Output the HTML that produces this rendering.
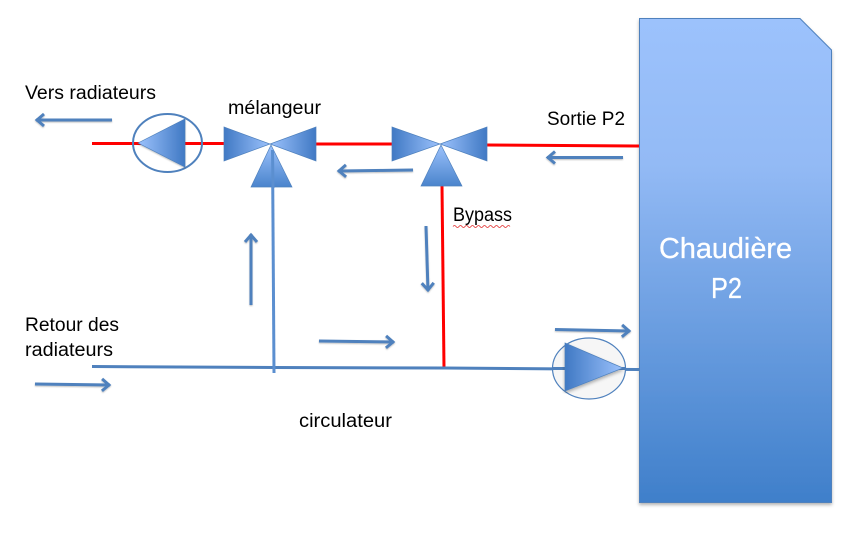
<!DOCTYPE html>
<html><head><meta charset="utf-8"><style>
html,body{margin:0;padding:0;background:#fff;width:843px;height:554px;overflow:hidden}
svg{display:block}
text{font-family:"Liberation Sans",sans-serif;fill:#000;font-size:19px}
</style></head><body>
<svg width="843" height="554" viewBox="0 0 843 554" xmlns="http://www.w3.org/2000/svg">
<defs>
<linearGradient id="v" x1="0" y1="0" x2="0" y2="1"><stop offset="0" stop-color="#9cc2fc"/><stop offset=".3" stop-color="#93baf5"/><stop offset="1" stop-color="#3f7fca"/></linearGradient>
<linearGradient id="tl" x1="0" y1="0" x2="1" y2="0"><stop offset="0" stop-color="#4079c4"/><stop offset="1" stop-color="#9cc2fc"/></linearGradient>
<linearGradient id="tr" x1="1" y1="0" x2="0" y2="0"><stop offset="0" stop-color="#4079c4"/><stop offset="1" stop-color="#9cc2fc"/></linearGradient>
<linearGradient id="tu" x1="0" y1="0" x2="0" y2="1"><stop offset="0" stop-color="#9cc2fc"/><stop offset="1" stop-color="#4a84cc"/></linearGradient>
<marker id="a" markerUnits="userSpaceOnUse" markerWidth="20" markerHeight="20" refX="15" refY="10" orient="auto"><path d="M7 4 L14 10 L7 16" fill="none" stroke="#4f81bd" stroke-width="3"/></marker>
<filter id="s" x="-5%" y="-5%" width="110%" height="110%"><feDropShadow dx="0" dy="2" stdDeviation="1.5" flood-color="#000" flood-opacity=".3"/></filter>
<filter id="l" x="-20%" y="-20%" width="140%" height="140%"><feDropShadow dx="0" dy="1" stdDeviation=".8" flood-color="#000" flood-opacity=".25"/></filter>
</defs>

<path d="M639.5 18.5H800L831.5 50V502.5H639.5Z" fill="url(#v)" stroke="#4f81bd" stroke-width="1" filter="url(#s)"/>

<g fill="none" stroke-linecap="butt">
<path d="M92 143.5H224M316 144H392" stroke="#ff0000" stroke-width="3"/>
<path d="M487 145L639 146" stroke="#ff0000" stroke-width="3"/>
<path d="M442 186L444 368" stroke="#ff0000" stroke-width="3"/>
<path d="M92 366.5L274 367.5L444 368L639 369.5" stroke="#4f81bd" stroke-width="3"/>
<path d="M272.5 150L274 373" stroke="#5b8fd0" stroke-width="3"/>
</g>

<ellipse cx="167.5" cy="143" rx="34.5" ry="29" fill="none" stroke="#4f81bd" stroke-width="2"/>
<path d="M138 143L185 119V167Z" fill="url(#tr)" stroke="#4f81bd" stroke-width=".7" filter="url(#l)"/>

<g stroke="#4f81bd" stroke-width=".7">
<path d="M224 127L270 144L224 161Z" fill="url(#tl)"/>
<path d="M316 127L270 144L316 161Z" fill="url(#tr)"/>
<path d="M271 145L292 187H251Z" fill="url(#tu)"/>
<path d="M392 127L440 144L392 161Z" fill="url(#tl)"/>
<path d="M487 127L440 144L487 161Z" fill="url(#tr)"/>
<path d="M441 145L462 186H421Z" fill="url(#tu)"/>
</g>
<path d="M272.5 150L273 188" stroke="#5b8fd0" stroke-width="3" fill="none"/>

<ellipse cx="589" cy="368.5" rx="36.5" ry="30.5" fill="#f6f6f6" stroke="#4f81bd" stroke-width="1.2"/>
<path d="M552 368.5H626" stroke="#4f81bd" stroke-width="3"/>
<path d="M565 343L623 368L565 391Z" fill="url(#tl)" stroke="#4f81bd" stroke-width=".7" filter="url(#s)"/>

<g fill="none" stroke="#4f81bd" stroke-width="3" marker-end="url(#a)" filter="url(#l)">
<path d="M112 120H36"/>
<path d="M413 170L338 171"/>
<path d="M623 157.5H547"/>
<path d="M426 226L428 291"/>
<path d="M251 305V234"/>
<path d="M319 341L394 342"/>
<path d="M35 384L110 385"/>
<path d="M555 329.5L630 331"/>
</g>

<text x="25" y="99" textLength="131" lengthAdjust="spacingAndGlyphs">Vers radiateurs</text>
<text x="228" y="114" textLength="93" lengthAdjust="spacingAndGlyphs">mélangeur</text>
<text x="547" y="125" textLength="78" lengthAdjust="spacingAndGlyphs">Sortie P2</text>
<text x="453" y="221" textLength="59" lengthAdjust="spacingAndGlyphs">Bypass</text>
<path d="M453 226.5q1.5-2 3 0t3 0 3 0 3 0 3 0 3 0 3 0 3 0 3 0 3 0 3 0 3 0 3 0 3 0 3 0 3 0 3 0 3 0 3 0" fill="none" stroke="#e03030" stroke-width=".8"/>
<text x="25" y="331" textLength="94" lengthAdjust="spacingAndGlyphs">Retour des</text>
<text x="25" y="356" textLength="88" lengthAdjust="spacingAndGlyphs">radiateurs</text>
<text x="299" y="427" textLength="93" lengthAdjust="spacingAndGlyphs">circulateur</text>
<text x="659" y="258" textLength="133" lengthAdjust="spacingAndGlyphs" style="fill:#fff;font-size:29px;stroke:#fff;stroke-width:.3">Chaudière</text>
<text x="711" y="298" textLength="31" lengthAdjust="spacingAndGlyphs" style="fill:#fff;font-size:29px;stroke:#fff;stroke-width:.3">P2</text>
</svg>
</body></html>
